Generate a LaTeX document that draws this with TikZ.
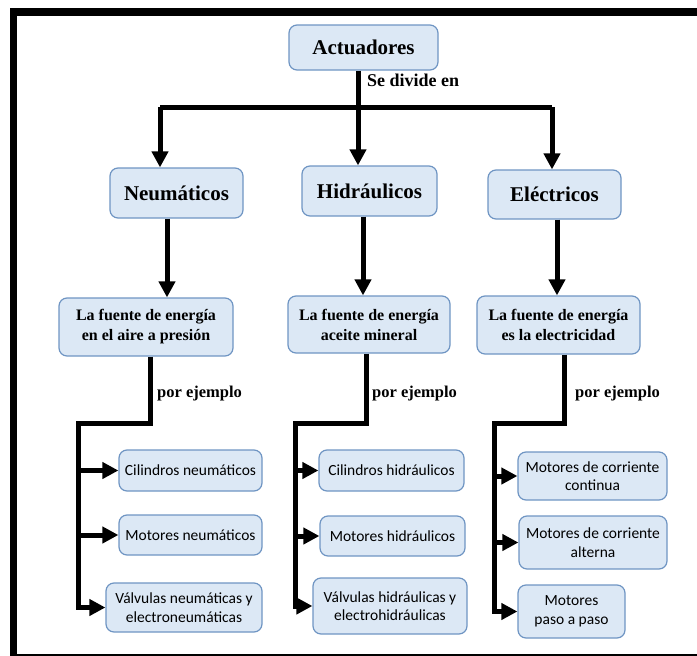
\documentclass[tikz,border=0pt]{standalone}
\usepackage{fontspec}
\setmainfont{Liberation Serif}
\newfontfamily\leaffont{Carlito}
\definecolor{myblue}{HTML}{DCE8F5}
\definecolor{myblueline}{HTML}{6F95C3}
\usepackage{tikz}
\usetikzlibrary{positioning, arrows.meta, calc}
\tikzset{
	defaultnode/.style={
			rectangle,
			rounded corners=8pt,
			draw=myblueline,
			fill=myblue,
			line width=1.2pt,
			align=center,
			inner sep=2pt
		},
	typenode/.style={
			defaultnode,
			font=\fontsize{21}{24}\selectfont\bfseries
		},
	sourcenode/.style={
			defaultnode,
			font=\fontsize{16}{20}\selectfont\bfseries
		},
	examplenode/.style={
			defaultnode,
			font=\leaffont\fontsize{15.5}{18.5}\selectfont
		},
	linknode/.style={
			font=\fontsize{16.5}{20}\selectfont\bfseries,
			anchor=west,
			inner sep=0pt
		},
	thickline/.style={
			line width=5pt,
			line join=miter
		},
	thickarrow/.style={
			thickline,
			-{Triangle[length=16pt,width=16pt]}
		}
}

\begin{document}
\begin{tikzpicture}[x=1pt,y=-1pt]
\useasboundingbox (0,0) rectangle (697,656);
% marco
\fill[black] (10,8) rectangle (697,16);
\fill[black] (10,8) rectangle (17,656);
\draw[line width=1.5pt] (17,655) -- (697,655);

\node[typenode, minimum width=149pt, minimum height=45pt] (act) at (363.5,47.5) {Actuadores};

\node[typenode, minimum width=133pt, minimum height=50pt] (neu) at (176.5,193) {Neumáticos};
\node[typenode, minimum width=135pt, minimum height=50pt] (hid) at (369.5,191) {Hidráulicos};
\node[typenode, minimum width=133pt, minimum height=49pt] (ele) at (554.5,194.5) {Eléctricos};

\node[sourcenode, minimum width=174pt, minimum height=58pt] (fneu) at (146,327) {La fuente de energía\\en el aire a presión};
\node[sourcenode, minimum width=162pt, minimum height=57pt] (fhid) at (369,324.5) {La fuente de energía\\aceite mineral};
\node[sourcenode, minimum width=163pt, minimum height=58pt] (fele) at (558.5,325) {La fuente de energía\\es la electricidad};

\node[examplenode, minimum width=143pt, minimum height=41pt] (cneu) at (190.5,470.5) {Cilindros neumáticos};
\node[examplenode, minimum width=143pt, minimum height=40pt] (mneu) at (190.5,535) {Motores neumáticos};
\node[examplenode, minimum width=156pt, minimum height=49pt] (vneu) at (184,607.5) {Válvulas neumáticas y\\electroneumáticas};

\node[examplenode, minimum width=145pt, minimum height=41pt] (chid) at (391.5,470.5) {Cilindros hidráulicos};
\node[examplenode, minimum width=145pt, minimum height=40pt] (mhid) at (392.5,536) {Motores hidráulicos};
\node[examplenode, minimum width=154pt, minimum height=56pt] (vhid) at (390,606) {Válvulas hidráulicas y\\electrohidráulicas};

\node[examplenode, minimum width=149pt, minimum height=48pt] (mcc) at (592.5,476) {Motores de corriente\\continua};
\node[examplenode, minimum width=148pt, minimum height=53pt] (mca) at (593,542.5) {Motores de corriente\\alterna};
\node[examplenode, minimum width=107pt, minimum height=53pt] (mpp) at (571.5,611.5) {Motores\\paso a paso};

% se divide en
\coordinate (barL) at (160,107);
\coordinate (barC) at (358,107);
\coordinate (barR) at (552,107);
\draw[thickline] (barL) -- (barR);
\draw[thickline] (act.south -| barC) -- (barC);
\draw[thickarrow] (barL) -- (barL |- neu.north);
\draw[thickarrow] (barC) -- (barC |- hid.north);
\draw[thickarrow] (barR) -- (barR |- ele.north);
\node[linknode, font=\fontsize{18}{20}\selectfont\bfseries] (divide) at (367,80) {Se divide en};

% fuente de energia
\coordinate (sN) at (167,0);
\coordinate (sH) at (363,0);
\coordinate (sE) at (557,0);
\draw[thickarrow] (neu.south -| sN) -- (fneu.north -| sN);
\draw[thickarrow] (hid.south -| sH) -- (fhid.north -| sH);
\draw[thickarrow] (ele.south -| sE) -- (fele.north -| sE);

% ejemplos
\coordinate (eN1) at (150,423);
\coordinate (eN2) at (78,423);
\draw[thickarrow] (fneu.south -| eN1) -- (eN1) -- (eN2) |- (vneu.west);
\draw[thickarrow] (eN2 |- cneu.west) -- (cneu.west);
\draw[thickarrow] (eN2 |- mneu.west) -- (mneu.west);
\node[linknode] (ejN) at (157,394) {por ejemplo};

\coordinate (eH1) at (366,423);
\coordinate (eH2) at (295,423);
\draw[thickarrow] (fhid.south -| eH1) -- (eH1) -- (eH2) |- (vhid.west);
\draw[thickarrow] (eH2 |- chid.west) -- (chid.west);
\draw[thickarrow] (eH2 |- mhid.west) -- (mhid.west);
\node[linknode] (ejH) at (372,394) {por ejemplo};

\coordinate (eE1) at (564,423);
\coordinate (eE2) at (494,423);
\draw[thickarrow] (fele.south -| eE1) -- (eE1) -- (eE2) |- (mpp.west);
\draw[thickarrow] (eE2 |- mcc.west) -- (mcc.west);
\draw[thickarrow] (eE2 |- mca.west) -- (mca.west);
\node[linknode] (ejE) at (575,394) {por ejemplo};

\end{tikzpicture}
\end{document}
